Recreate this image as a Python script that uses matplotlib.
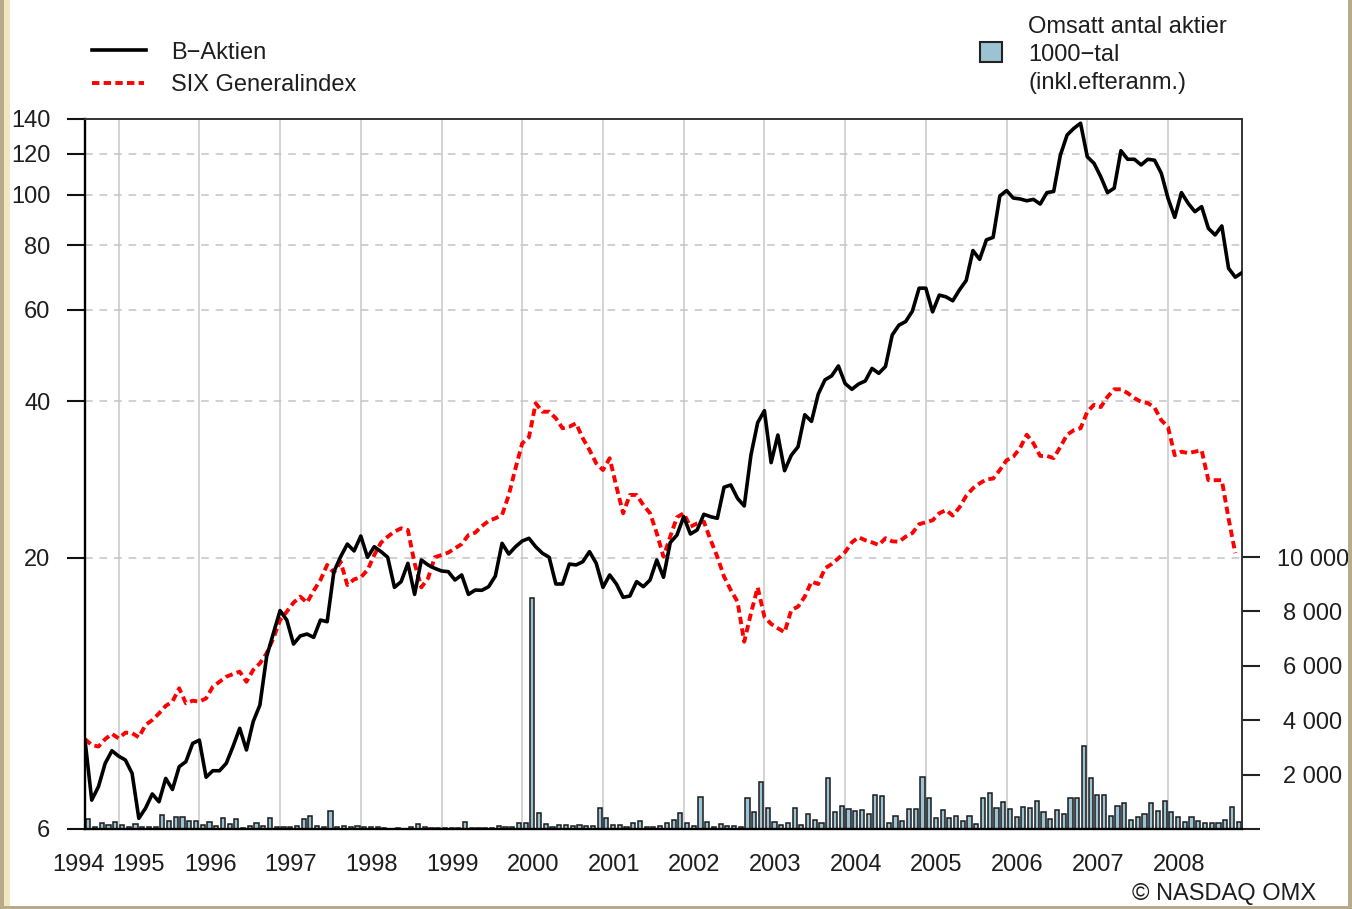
import numpy as np
import matplotlib
matplotlib.use('Agg')
import matplotlib.pyplot as plt
from matplotlib.lines import Line2D
from matplotlib.patches import Rectangle
from matplotlib.transforms import blended_transform_factory

plt.rcParams['font.family'] = ['Liberation Sans', 'DejaVu Sans']

# monthly closing values, Aug 1994 - Dec 2008
b_aktien = [8.90, 6.82, 7.24, 8.03, 8.49, 8.29, 8.15, 7.68, 6.29, 6.58,
            7.01, 6.77, 7.51, 7.15, 7.91, 8.09, 8.77, 8.90, 7.55, 7.77,
            7.77, 8.03, 8.65, 9.38, 8.52, 9.66, 10.40, 12.89, 14.29, 15.81,
            15.16, 13.63, 14.13, 14.25, 14.04, 15.16, 15.05, 18.79, 20.08, 21.24,
            20.60, 22.01, 20.03, 20.99, 20.54, 20.03, 17.53, 17.98, 19.50, 16.99,
            19.79, 19.36, 19.07, 18.85, 18.79, 18.11, 18.52, 16.99, 17.32, 17.30,
            17.58, 18.43, 21.31, 20.32, 20.99, 21.53, 21.79, 20.99, 20.39, 20.03,
            17.79, 17.79, 19.44, 19.36, 19.64, 20.54, 19.50, 17.53, 18.52, 17.79,
            16.77, 16.87, 17.98, 17.58, 18.11, 19.79, 18.33, 21.37, 22.11, 23.98,
            22.21, 22.61, 24.24, 23.98, 23.81, 27.33, 27.61, 26.02, 25.15, 31.53,
            36.39, 38.38, 30.48, 34.46, 29.41, 31.5, 32.7, 37.7, 36.6, 41.3,
            44.0, 44.8, 46.8, 43.3, 42.2, 43.2, 43.8, 46.3, 45.3, 46.7,
            53.7, 56.1, 57.0, 59.7, 66.1, 66.1, 59.5, 64.1, 63.6, 62.5,
            65.6, 68.4, 78.1, 75.1, 81.9, 82.8, 99.5, 101.9, 98.6, 98.2,
            97.4, 98.0, 96.0, 101.0, 101.5, 119.3, 130.4, 134.3, 137.4, 118.4,
            115.0, 108.4, 101.0, 103.0, 121.6, 117.1, 117.1, 114.2, 117.1, 116.6,
            110.1, 98.5, 90.5, 101.0, 96.3, 92.8, 94.9, 86.2, 83.7, 87.1,
            72.2, 69.4, 70.8]

six_general = [8.94, 8.71, 8.65, 8.94, 9.15, 8.97, 9.20, 9.18, 9.01, 9.52,
               9.73, 10.02, 10.36, 10.56, 11.20, 10.48, 10.60, 10.56, 10.71, 11.28,
               11.53, 11.79, 11.93, 12.06, 11.53, 12.15, 12.51, 13.08, 13.98, 15.16,
               15.74, 16.38, 16.82, 16.38, 17.27, 18.11, 19.36, 18.71, 19.64, 17.71,
               18.16, 18.33, 18.93, 20.23, 21.37, 21.95, 22.44, 22.78, 22.60, 19.50,
               17.53, 18.25, 20.03, 20.23, 20.45, 20.84, 21.24, 22.11, 22.34, 23.0,
               23.53, 23.81, 24.17, 26.41, 29.73, 33.21, 34.11, 39.66, 38.21, 38.21,
               37.11, 35.50, 35.75, 36.29, 33.96, 32.24, 30.39, 29.50, 31.08, 27.40,
               24.35, 26.41, 26.41, 25.26, 24.35, 22.28, 20.08, 21.95, 23.92, 24.35,
               22.94, 23.28, 23.46, 21.63, 20.08, 18.38, 17.32, 16.45, 13.77, 15.62,
               17.53, 15.39, 14.90, 14.62, 14.36, 15.85, 16.09, 16.82, 17.98, 17.79,
               19.07, 19.44, 19.94, 20.5, 21.4, 21.9, 21.6, 21.4, 21.15, 21.8,
               21.5, 21.46, 21.95, 22.3, 23.2, 23.4, 23.6, 24.35, 24.7, 24.1,
               25.0, 26.3, 27.2, 27.8, 28.3, 28.4, 29.5, 30.8, 31.3, 32.5,
               34.5, 33.2, 31.4, 31.4, 31.1, 32.7, 34.5, 35.2, 35.5, 38.2,
               39.4, 39.0, 40.8, 42.2, 42.2, 41.5, 40.6, 39.9, 39.7, 38.9,
               36.8, 35.7, 31.5, 32.0, 31.8, 32.0, 32.2, 28.2, 28.2, 28.2,
               23.8, 20.4]

# traded shares per month, thousands
volume = [370, 85, 210, 160, 245, 150, 85, 170, 85, 85,
          85, 515, 280, 450, 450, 280, 280, 150, 245, 120,
          390, 185, 370, 25, 100, 210, 110, 405, 85, 85,
          85, 100, 370, 490, 100, 75, 675, 60, 100, 60,
          100, 60, 60, 60, 25, 10, 50, 10, 75, 185,
          75, 50, 50, 25, 25, 35, 245, 25, 25, 25,
          25, 120, 60, 60, 230, 230, 8490, 590, 185, 85,
          135, 160, 120, 135, 120, 120, 770, 405, 135, 150,
          85, 230, 305, 60, 75, 100, 230, 330, 600, 230,
          110, 1165, 270, 85, 170, 120, 110, 85, 1130, 640,
          1740, 785, 245, 145, 210, 760, 135, 550, 330, 230,
          1860, 610, 860, 735, 675, 690, 550, 1250, 1210, 230,
          480, 295, 720, 750, 1920, 1130, 390, 700, 390, 480,
          305, 480, 170, 1140, 1310, 770, 1000, 735, 430, 795,
          770, 1040, 640, 370, 700, 550, 1130, 1130, 3050, 1860,
          1260, 1260, 490, 860, 945, 330, 430, 550, 970, 675,
          1015, 640, 430, 270, 430, 280, 230, 210, 230, 330,
          800, 270]

years = list(range(1994, 2009))
year_label_pos = [-1.0, 7.9] + [18.6 + 12 * k for k in range(13)]
left_ticks = [6, 20, 40, 60, 80, 100, 120, 140]
grid_vals = [20, 40, 60, 80, 100, 120]
right_ticks = [0, 2000, 4000, 6000, 8000, 10000]
right_labels = ['', '2 000', '4 000', '6 000', '8 000', '10 000']

W, H = 1352, 909
def fx(px):
    return px / W
def fy(py):
    return 1 - py / H

txt = '#1e1e1e'
bar_col = '#9cc3d3'
fs = 17

fig = plt.figure(figsize=(W / 100, H / 100), dpi=100)
ax = fig.add_axes([fx(85), fy(829), fx(1242) - fx(85), fy(119) - fy(829)])
ax2 = ax.twinx()
ax.set_zorder(ax2.get_zorder() + 1)
ax.patch.set_visible(False)

m = np.arange(len(b_aktien))

# volume bars (right axis)
for yr in range(1995, 2009):
    ax2.axvline(5 + 12 * (yr - 1995), color='#c8c8c8', lw=1.1, zorder=0)
ax2.bar(m[:len(volume)] + 0.5, volume, width=0.62, color=bar_col,
        edgecolor='#1a1a1a', linewidth=1.1, zorder=2)
ax2.set_ylim(0, 10000 * 710 / 272)
ax2.set_yticks(right_ticks)
ax2.set_yticklabels(right_labels)
ax2.tick_params(axis='y', direction='out', length=13, width=1.5, pad=38,
                labelsize=fs, labelcolor=txt, color='#222222')
for lbl in ax2.get_yticklabels():
    lbl.set_ha('center')
for s in ax2.spines.values():
    s.set_visible(False)

# price lines (left axis, log)
ax.set_yscale('log')
ax.set_ylim(6, 140)
ax.set_xlim(0, len(b_aktien) - 1)
for v in grid_vals:
    ax.axhline(v, color='#c4c4c4', lw=1.1, dashes=(5, 4.5), zorder=1)
ax.plot(m[:len(six_general)], six_general, color='#ff0000', lw=2.8,
        dashes=(1.9, 1.1), zorder=3)
ax.plot(m, b_aktien, color='black', lw=2.6, zorder=4)

ax.set_yticks(left_ticks)
ax.set_yticklabels([str(t) for t in left_ticks])
ax.set_yticks([], minor=True)
ax.tick_params(axis='y', which='major', direction='out', length=13, width=1.5,
               pad=12, labelsize=fs, labelcolor=txt, color='#111111')
ax.set_xticks([])
ax2.set_xticks([])
ax.spines['left'].set_linewidth(1.7)
ax.spines['bottom'].set_linewidth(1.7)
ax.spines['top'].set_linewidth(1.4)
ax.spines['top'].set_color('#333333')
ax.spines['right'].set_linewidth(1.4)
ax.spines['right'].set_color('#333333')

tr = blended_transform_factory(ax.transData, ax.transAxes)
for yr, xp in zip(years, year_label_pos):
    ax.text(xp, (829 - 871) / 710, str(yr), transform=tr, ha='center',
            va='baseline', fontsize=fs, color=txt, clip_on=False)

# legends, drawn by hand like the original
fig.add_artist(Line2D([fx(92), fx(146)], [fy(50), fy(50)], color='black', lw=2.6))
fig.add_artist(Line2D([fx(92), fx(144)], [fy(83), fy(83)], color='#ff0000',
                      lw=2.8, dashes=(1.9, 1.1)))
fig.text(fx(171), fy(59), 'B\u2212Aktien', fontsize=fs, color=txt, va='baseline')
fig.text(fx(171), fy(91), 'SIX Generalindex', fontsize=fs, color=txt, va='baseline')

fig.add_artist(Rectangle((fx(980), fy(62)), 22 / W, 20 / H, transform=fig.transFigure,
                         facecolor=bar_col, edgecolor='#222222', lw=1.5))
for yb, s in zip([33, 61, 89], ['Omsatt antal aktier', '1000\u2212tal', '(inkl.efteranm.)']):
    fig.text(fx(1028), fy(yb), s, fontsize=fs, color=txt, va='baseline')

fig.text(fx(1132), fy(905), '\u00a9 NASDAQ OMX', fontsize=fs, color=txt, va='bottom')

# page frame
fig.add_artist(Rectangle((0, 0), 4 / W, 1, transform=fig.transFigure,
                         facecolor='#b8ab8b', edgecolor='none'))
fig.add_artist(Rectangle((4 / W, 0), 6 / W, 1, transform=fig.transFigure,
                         facecolor='#efe6c2', edgecolor='none'))
fig.add_artist(Rectangle((0, 0), 1, 3 / H, transform=fig.transFigure,
                         facecolor='#b8ab8b', edgecolor='none'))
fig.add_artist(Rectangle((1348 / W, 0), 4 / W, 1, transform=fig.transFigure,
                         facecolor='#b8ab8b', edgecolor='none'))

fig.savefig('out.png', dpi=100)
